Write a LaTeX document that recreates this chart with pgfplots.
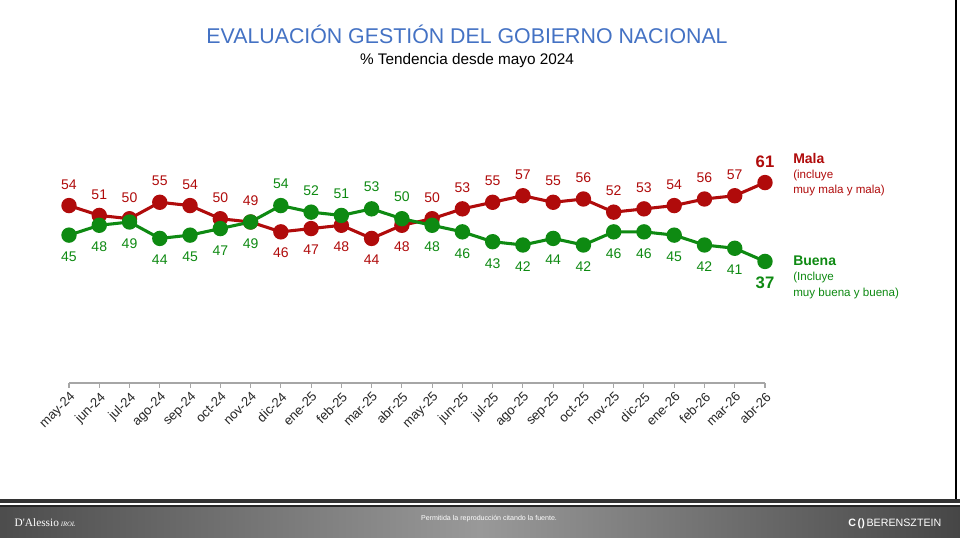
\documentclass[border=0pt]{standalone}
\usepackage{pgfplots}
\pgfplotsset{compat=1.18}
\usepackage{pgfplotstable}
\usepackage{fontspec}
\setmainfont{Liberation Sans}
\newfontfamily\serifft{Liberation Serif}
\definecolor{malac}{HTML}{B00B0B}
\definecolor{buenac}{HTML}{0E8A12}
\definecolor{titlec}{HTML}{4472C4}
\pgfplotstableread{
x mala mo mb buena bo bb
0 54 1 0 45 -1 0
1 51 1 0 48 -1 0
2 50 1 0 49 -1 0
3 55 1 0 44 -1 0
4 54 1 0 45 -1 0
5 50 1 0 47 -1 0
6 49 1 0 49 -1 0
7 46 -1 0 54 1 0
8 47 -1 0 52 1 0
9 48 -1 0 51 1 0
10 44 -1 0 53 1 0
11 48 -1 0 50 1 0
12 50 1 0 48 -1 0
13 53 1 0 46 -1 0
14 55 1 0 43 -1 0
15 57 1 0 42 -1 0
16 55 1 0 44 -1 0
17 56 1 0 42 -1 0
18 52 1 0 46 -1 0
19 53 1 0 46 -1 0
20 54 1 0 45 -1 0
21 56 1 0 42 -1 0
22 57 1 0 41 -1 0
23 61 1 1 37 -1 1
}\datatable
\begin{document}
\begin{tikzpicture}
\begin{scope}[x=0.75pt,y=-0.75pt,shift={(0pt,403.5pt)}]
\useasboundingbox (0,0) rectangle (960,538);
\fill[white] (0,0) rectangle (960,538);
\draw[black, line width=1.2pt] (956,0) -- (956,500);
% title
\node[font=\fontsize{16}{18}\selectfont, text=titlec] at (467,34) {EVALUACIÓN GESTIÓN DEL GOBIERNO NACIONAL};
\node[font=\fontsize{11.5}{13}\selectfont] at (467,61) {\% Tendencia desde mayo 2024};
% legend texts
\node[anchor=north west, align=left, text=malac, inner sep=0pt, font=\fontsize{8.7}{11.3}\selectfont] at (793,153)
 {{\fontsize{10.5}{11.3}\selectfont\bfseries Mala}\\(incluye\\muy mala y mala)};
\node[anchor=north west, align=left, text=buenac, inner sep=0pt, font=\fontsize{8.7}{11.3}\selectfont] at (793,256)
 {{\fontsize{10.5}{11.3}\selectfont\bfseries Buena}\\(Incluye\\muy buena y buena)};
% footer
\fill[black!80] (0,499) rectangle (960,503);
\fill[white] (0,503) rectangle (960,505);
\fill[black!85] (0,505) rectangle (960,508);
\shade[left color=gray!60!black, right color=gray!55!black, middle color=gray!80] (0,508) rectangle (960,538);
\node[text=white, font=\serifft\fontsize{8.5}{9}\selectfont, anchor=west] at (10,523) {D'Alessio\,{\fontsize{5}{6}\selectfont\itshape IROL}};
\node[text=white, font=\fontsize{5.3}{6}\selectfont] at (489,519) {Permitida la reproducción citando la fuente.};
\node[text=white, font=\fontsize{8}{9}\selectfont, anchor=east] at (946,524) {\bfseries C\,()\,\mdseries BERENSZTEIN};
\end{scope}
\begin{axis}[
  at={(51.75pt,116.25pt)}, anchor=south west,
  scale only axis, width=522pt, height=172.5pt,
  xmin=0, xmax=23, ymin=0, ymax=70,
  clip=false,
  /pgf/number format/assume math mode=true,
  axis x line=bottom, axis y line=none,
  axis line style={-, draw=gray!70, line width=0.8pt},
  xtick={0,...,23},
  xticklabels={may-24,jun-24,jul-24,ago-24,sep-24,oct-24,nov-24,dic-24,ene-25,feb-25,mar-25,abr-25,may-25,jun-25,jul-25,ago-25,sep-25,oct-25,nov-25,dic-25,ene-26,feb-26,mar-26,abr-26},
  tick align=outside, major tick length=3.75pt,
  xtick style={draw=gray!70, line width=0.8pt},
  xticklabel style={rotate=45, anchor=north east, font=\fontsize{9.8}{10}\selectfont, text=black!85, inner sep=1.5pt},
  ytick=\empty,
  nodes near coords={\ifdim\bg pt>0.5pt\fontsize{12.5}{12}\selectfont\bfseries\fi\pgfmathprintnumber{\pgfplotspointmeta}},
]
\addplot[malac, line width=2.3pt, mark=*, mark size=4.6pt,
  visualization depends on={\thisrow{mo} \as \off},
  visualization depends on={\thisrow{mb} \as \bg},
  nodes near coords style={anchor=center, yshift=\off*15.8pt, text=malac, font=\fontsize{10.5}{12}\selectfont}]
  table[x=x, y=mala] {\datatable};
\addplot[buenac, line width=2.3pt, mark=*, mark size=4.6pt,
  visualization depends on={\thisrow{bo} \as \off},
  visualization depends on={\thisrow{bb} \as \bg},
  nodes near coords style={anchor=center, yshift=\off*16.3pt, text=buenac, font=\fontsize{10.5}{12}\selectfont}]
  table[x=x, y=buena] {\datatable};
\end{axis}
\end{tikzpicture}
\end{document}
